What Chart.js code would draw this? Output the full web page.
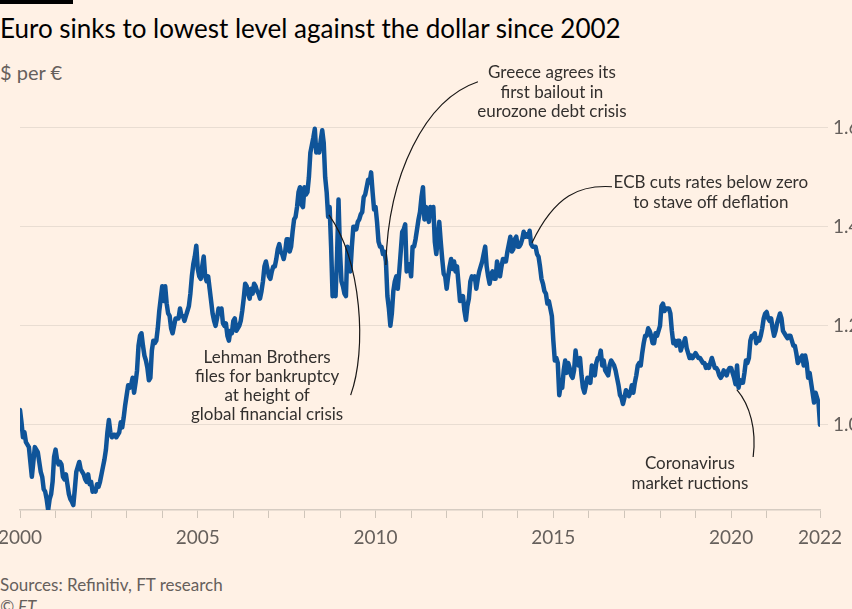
<!DOCTYPE html>
<html>
<head>
<meta charset="utf-8">
<script src="https://cdn.jsdelivr.net/npm/chart.js@4.4.0/dist/chart.umd.min.js"></script>
<style>
  html, body { margin:0; padding:0; background:#FFF1E5; width:852px; height:609px; overflow:hidden; }
  body { position:relative; font-family: Lato, "Noto Sans", sans-serif; }
  #bar { position:absolute; left:0; top:0; width:73px; height:4px; background:#000; }
  #title { position:absolute; left:0; top:12px; font-size:26px; color:#000; white-space:nowrap; }
  #sub { position:absolute; left:0; top:60px; font-size:20px; color:#66605C; white-space:nowrap; }
  #src { position:absolute; left:0; top:574px; font-size:17px; color:#66605C; white-space:nowrap; }
  #ft { position:absolute; left:0; top:596px; font-size:17px; color:#66605C; font-style:italic; }
  #wrap { position:absolute; left:0; top:0; width:852px; height:560px; }
</style>
</head>
<body>
<div id="bar"></div>
<div id="title">Euro sinks to lowest level against the dollar since 2002</div>
<div id="sub">$ per €</div>
<div id="wrap"><canvas id="c" width="852" height="560"></canvas></div>
<div id="src">Sources: Refinitiv, FT research</div>
<div id="ft">© FT</div>
<script>
// Half-monthly readings of $ per €, starting January 2000 (two values per month)
const startYear = 2000;
const pointsPerYear = 24;
const rate2000 = [1.030,1.005, 0.975,0.985, 0.965,0.960, 0.955,0.925, 0.895,0.925, 0.955,0.950, 0.945,0.925, 0.905,0.895, 0.870,0.865, 0.850,0.828, 0.850,0.860, 0.885,0.935];
const rate2001 = [0.950,0.930, 0.920,0.925, 0.920,0.895, 0.890,0.900, 0.880,0.860, 0.850,0.845, 0.838,0.870, 0.905,0.915, 0.925,0.910, 0.905,0.900, 0.890,0.885, 0.900,0.880];
const rate2002 = [0.885,0.865, 0.870,0.865, 0.880,0.875, 0.885,0.900, 0.915,0.930, 0.950,0.985, 1.010,0.985, 0.975,0.980, 0.980,0.975, 0.980,0.985, 1.005,0.995, 1.015,1.040];
const rate2003 = [1.060,1.080, 1.075,1.080, 1.095,1.065, 1.085,1.110, 1.160,1.180, 1.185,1.160, 1.140,1.130, 1.115,1.090, 1.095,1.150, 1.170,1.165, 1.170,1.195, 1.230,1.255];
const rate2004 = [1.280,1.250, 1.280,1.245, 1.225,1.220, 1.195,1.185, 1.200,1.215, 1.215,1.215, 1.235,1.220, 1.220,1.210, 1.220,1.230, 1.240,1.265, 1.300,1.325, 1.340,1.362];
const rate2005 = [1.315,1.300, 1.295,1.320, 1.340,1.300, 1.290,1.300, 1.275,1.250, 1.225,1.210, 1.200,1.215, 1.235,1.225, 1.235,1.205, 1.200,1.205, 1.180,1.170, 1.190,1.185];
const rate2006 = [1.210,1.215, 1.190,1.195, 1.200,1.210, 1.230,1.255, 1.285,1.280, 1.265,1.255, 1.275,1.265, 1.285,1.280, 1.270,1.265, 1.255,1.270, 1.290,1.320, 1.330,1.315];
const rate2007 = [1.300,1.295, 1.310,1.320, 1.320,1.335, 1.355,1.365, 1.350,1.345, 1.335,1.350, 1.375,1.375, 1.350,1.360, 1.390,1.415, 1.420,1.440, 1.470,1.480, 1.445,1.440];
const rate2008 = [1.480,1.465, 1.470,1.500, 1.550,1.565, 1.580,1.598, 1.550,1.565, 1.550,1.575, 1.595,1.570, 1.500,1.470, 1.420,1.440, 1.360,1.260, 1.270,1.260, 1.340,1.455];
const rate2009 = [1.350,1.290, 1.280,1.265, 1.260,1.360, 1.320,1.310, 1.360,1.400, 1.400,1.395, 1.410,1.415, 1.425,1.430, 1.460,1.465, 1.480,1.495, 1.490,1.510, 1.470,1.435];
const rate2010 = [1.440,1.410, 1.370,1.360, 1.360,1.345, 1.350,1.330, 1.260,1.235, 1.200,1.225, 1.270,1.290, 1.300,1.275, 1.310,1.350, 1.390,1.395, 1.405,1.310, 1.325,1.320];
const rate2011 = [1.300,1.360, 1.360,1.375, 1.395,1.415, 1.430,1.460, 1.480,1.415, 1.440,1.425, 1.410,1.440, 1.430,1.440, 1.370,1.345, 1.375,1.410, 1.370,1.335, 1.305,1.300];
const rate2012 = [1.275,1.300, 1.320,1.335, 1.315,1.330, 1.310,1.320, 1.285,1.250, 1.255,1.260, 1.230,1.212, 1.240,1.255, 1.290,1.300, 1.295,1.300, 1.275,1.295, 1.310,1.320];
const rate2013 = [1.330,1.345, 1.360,1.320, 1.300,1.285, 1.305,1.310, 1.295,1.295, 1.330,1.315, 1.300,1.320, 1.335,1.330, 1.330,1.350, 1.365,1.380, 1.350,1.355, 1.375,1.380];
const rate2014 = [1.360,1.360, 1.365,1.375, 1.390,1.380, 1.385,1.380, 1.392,1.365, 1.360,1.360, 1.360,1.345, 1.340,1.320, 1.295,1.285, 1.270,1.265, 1.245,1.250, 1.235,1.220];
const rate2015 = [1.170,1.130, 1.135,1.125, 1.060,1.080, 1.075,1.110, 1.130,1.105, 1.125,1.115, 1.100,1.095, 1.110,1.150, 1.125,1.120, 1.135,1.100, 1.075,1.065, 1.080,1.095];
const rate2016 = [1.090,1.085, 1.120,1.110, 1.100,1.125, 1.135,1.135, 1.150,1.120, 1.130,1.110, 1.105,1.100, 1.120,1.130, 1.125,1.120, 1.110,1.095, 1.080,1.060, 1.055,1.042];
const rate2017 = [1.055,1.070, 1.065,1.058, 1.065,1.080, 1.065,1.085, 1.100,1.120, 1.125,1.120, 1.145,1.165, 1.180,1.180, 1.195,1.190, 1.180,1.165, 1.165,1.185, 1.180,1.190];
const rate2018 = [1.200,1.240, 1.245,1.230, 1.235,1.235, 1.235,1.225, 1.190,1.165, 1.170,1.160, 1.170,1.170, 1.150,1.160, 1.165,1.175, 1.155,1.145, 1.135,1.140, 1.135,1.140];
const rate2019 = [1.145,1.140, 1.135,1.135, 1.130,1.125, 1.125,1.115, 1.120,1.115, 1.125,1.135, 1.125,1.115, 1.115,1.110, 1.100,1.095, 1.100,1.110, 1.105,1.100, 1.110,1.115];
const rate2020 = [1.115,1.105, 1.095,1.082, 1.120,1.075, 1.090,1.085, 1.085,1.105, 1.130,1.125, 1.135,1.170, 1.180,1.180, 1.185,1.165, 1.175,1.170, 1.180,1.195, 1.215,1.225];
const rate2021 = [1.228,1.215, 1.210,1.215, 1.195,1.180, 1.190,1.205, 1.215,1.225, 1.215,1.190, 1.185,1.180, 1.175,1.180, 1.180,1.170, 1.160,1.160, 1.145,1.125, 1.130,1.135];
const rate2022 = [1.140,1.120, 1.140,1.125, 1.095,1.105, 1.085,1.065, 1.045,1.065, 1.055,1.045, 1.000];

const yTickValues = [1.0, 1.2, 1.4, 1.6];
const yTickLabels = ["1.0", "1.2", "1.4", "1.6"];
const xTickYears = [2000,2001,2002,2003,2004,2005,2006,2007,2008,2009,2010,2011,2012,2013,2014,2015,2016,2017,2018,2019,2020,2021];
const xLabelYears = [2000, 2005, 2010, 2015, 2020];
const endLabel = "2022";

const annotations = [
  { lines:["Lehman Brothers","files for bankruptcy","at height of","global financial crisis"], tx:2006.95, ty:1.137,
    curve:[[2008.69,1.424],[2009.62,1.329],[2009.76,1.152],[2009.30,1.060]] },
  { lines:["Greece agrees its","first bailout in","eurozone debt crisis"], tx:2014.96, ty:1.711,
    curve:[[2010.29,1.323],[2010.35,1.505],[2011.39,1.657],[2012.88,1.693]] },
  { lines:["ECB cuts rates below zero","to stave off deflation"], tx:2019.43, ty:1.489,
    curve:[[2014.40,1.368],[2015.05,1.465],[2015.75,1.485],[2016.65,1.481]] },
  { lines:["Coronavirus","market ructions"], tx:2018.84, ty:0.921,
    curve:[[2020.16,1.071],[2020.53,1.040],[2020.72,0.990],[2020.62,0.935]] }
];

const allRates = [].concat(rate2000,rate2001,rate2002,rate2003,rate2004,rate2005,rate2006,rate2007,rate2008,rate2009,rate2010,rate2011,rate2012,rate2013,rate2014,rate2015,rate2016,rate2017,rate2018,rate2019,rate2020,rate2021,rate2022);
const points = allRates.map((v, i) => ({ x: startYear + i / pointsPerYear, y: v }));
const xEnd = points[points.length - 1].x;

const annotationPlugin = {
  id: 'ftAnnotations',
  afterDatasetsDraw(chart) {
    const ctx = chart.ctx, xs = chart.scales.x, ys = chart.scales.y;
    ctx.save();
    ctx.strokeStyle = '#1a1817';
    ctx.lineWidth = 1.2;
    annotations.forEach(a => {
      const p = a.curve.map(c => [xs.getPixelForValue(c[0]), ys.getPixelForValue(c[1])]);
      ctx.beginPath();
      ctx.moveTo(p[0][0], p[0][1]);
      ctx.bezierCurveTo(p[1][0], p[1][1], p[2][0], p[2][1], p[3][0], p[3][1]);
      ctx.stroke();
    });
    ctx.fillStyle = '#33302E';
    ctx.font = '17px Lato, "Noto Sans", sans-serif';
    ctx.textAlign = 'center';
    ctx.textBaseline = 'middle';
    annotations.forEach(a => {
      const cx = xs.getPixelForValue(a.tx), cy = ys.getPixelForValue(a.ty);
      a.lines.forEach((t, k) => ctx.fillText(t, cx, cy + k * 19.3));
    });
    ctx.restore();
  }
};

new Chart(document.getElementById('c'), {
  type: 'line',
  data: { datasets: [{ data: points, borderColor: '#0F5499', borderWidth: 4.5, pointRadius: 0, tension: 0, borderJoinStyle: 'round', borderCapStyle: 'round' }] },
  options: {
    responsive: false, animation: false, devicePixelRatio: 1,
    layout: { padding: { left: 20, top: 110, right: 0, bottom: 0 } },
    plugins: { legend: { display: false }, tooltip: { enabled: false } },
    scales: {
      x: {
        type: 'linear', min: startYear, max: xEnd,
        afterBuildTicks: s => { s.ticks = xTickYears.concat([xEnd]).map(v => ({ value: v })); },
        afterFit: s => { s.height = 50; s.paddingLeft = 0; s.paddingRight = 0; },
        ticks: {
          autoSkip: false, maxRotation: 0, padding: 8, color: '#66605C',
          font: { family: 'Lato, "Noto Sans", sans-serif', size: 19 },
          callback: (v) => v === xEnd ? endLabel : (xLabelYears.includes(v) ? String(v) : '')
        },
        grid: { drawOnChartArea: false, drawTicks: true, tickLength: 8, color: '#CFC5BA', lineWidth: 1 },
        border: { display: true, color: '#D6CCC2', width: 1.5 }
      },
      y: {
        position: 'right', min: 0.828, max: 1.636,
        afterBuildTicks: s => { s.ticks = yTickValues.map(v => ({ value: v })); },
        afterFit: s => { s.width = 32; },
        ticks: {
          padding: 5, color: '#66605C', align: 'center',
          font: { family: 'Lato, "Noto Sans", sans-serif', size: 19 },
          callback: (v) => yTickLabels[yTickValues.indexOf(v)] ?? ''
        },
        grid: { drawTicks: true, tickLength: 8, color: '#E9DDD2' },
        border: { display: false }
      }
    }
  },
  plugins: [annotationPlugin]
});
</script>
</body>
</html>
